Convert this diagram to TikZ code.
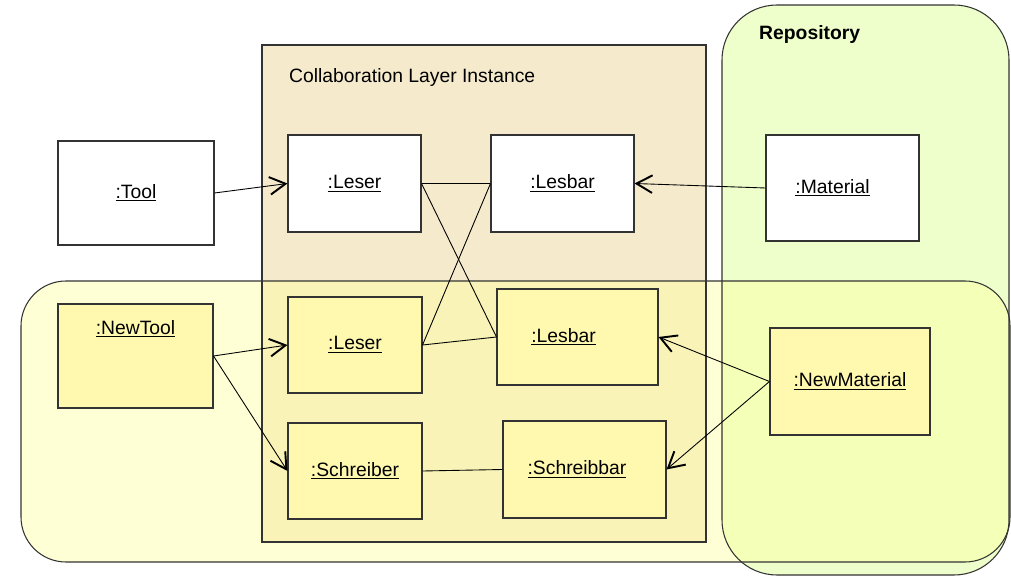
\documentclass[tikz,border=0pt]{standalone}
\usepackage{fontspec}
\setmainfont{Liberation Sans}
\usetikzlibrary{arrows.meta}
\definecolor{repogreen}{HTML}{EEFFCC}
\definecolor{collabtan}{HTML}{F5EBCC}
\definecolor{newyellow}{HTML}{FFFF99}
\definecolor{objyellow}{HTML}{FFF9B0}
\definecolor{edgegray}{HTML}{333333}
\begin{document}
\begin{tikzpicture}[x=0.02cm,y=-0.02cm,
  obj/.style={draw=edgegray,line width=0.6pt,inner sep=0pt,font=\fontsize{11}{13}\selectfont},
  plainobj/.style={obj,fill=white},
  newobj/.style={obj,fill=objyellow},
  uses/.style={-{Straight Barb[length=9pt,width=10pt,line width=1.1pt]},line width=0.5pt},
  link/.style={line width=0.5pt}]
\useasboundingbox (0,0) rectangle (1011,577);

% areas
\fill[repogreen,rounded corners=1.1cm] (722,5) rectangle (1009,575);
\fill[collabtan] (262,45) rectangle (706,542);
\fill[newyellow,fill opacity=0.4,rounded corners=0.9cm] (21,281) rectangle (1010,562);
\draw[edgegray,line width=0.6pt] (262,45) rectangle (706,542);
\draw[edgegray,line width=0.6pt,rounded corners=0.9cm] (21,281) rectangle (1010,562);
\draw[edgegray,line width=0.6pt,rounded corners=1.1cm] (722,5) rectangle (1009,575);

\node[anchor=west,font=\fontsize{11}{13}\selectfont] (collab) at (283,78) {Collaboration Layer Instance};
\node[anchor=west,font=\fontsize{11}{13}\selectfont\bfseries] (repo) at (753,35) {Repository};

% objects
\node[plainobj,minimum width=3.12cm,minimum height=2.08cm] (tool) at (136,193) {\underline{:Tool}};
\node[plainobj,minimum width=2.66cm,minimum height=1.94cm] (leserA) at (354.5,183.5) {\underline{:Leser}};
\node[plainobj,minimum width=2.86cm,minimum height=1.94cm] (lesbarA) at (562.5,183.5) {\underline{:Lesbar}};
\node[plainobj,minimum width=3.06cm,minimum height=2.12cm] (material) at (842.5,188) {\underline{:Material}\hspace*{0.4cm}};

\node[newobj,minimum width=3.1cm,minimum height=2.08cm,text depth=1.16cm] (newtool) at (135.5,356) {\underline{:NewTool}};
\node[newobj,minimum width=2.68cm,minimum height=1.92cm] (leserB) at (355,345) {\underline{:Leser}};
\node[newobj,minimum width=3.22cm,minimum height=1.92cm] (lesbarB) at (577.5,337) {\underline{:Lesbar}\hspace*{0.56cm}};
\node[newobj,minimum width=3.2cm,minimum height=2.14cm] (newmaterial) at (850,381.5) {\underline{:NewMaterial}};
\node[newobj,minimum width=2.68cm,minimum height=1.92cm] (schreiber) at (355,471) {\underline{:Schreiber}};
\node[newobj,minimum width=3.26cm,minimum height=1.94cm] (schreibbar) at (584.5,469.5) {\underline{:Schreibbar}\hspace*{0.3cm}};

% links
\draw[uses] (tool.east) -- (leserA.west);
\draw[uses] (material.west) -- (lesbarA.east);
\draw[link] (leserA.east) -- (lesbarA.west);
\draw[link] (leserA.east) -- (lesbarB.west);
\draw[link] (lesbarA.west) -- (leserB.east);
\draw[link] (leserB.east) -- (lesbarB.west);
\draw[link] (schreiber.east) -- (schreibbar.west);
\draw[uses] (newtool.east) -- (leserB.west);
\draw[uses] (newtool.east) -- (schreiber.west);
\draw[uses] (newmaterial.west) -- (lesbarB.east);
\draw[uses] (newmaterial.west) -- (schreibbar.east);
\end{tikzpicture}
\end{document}
